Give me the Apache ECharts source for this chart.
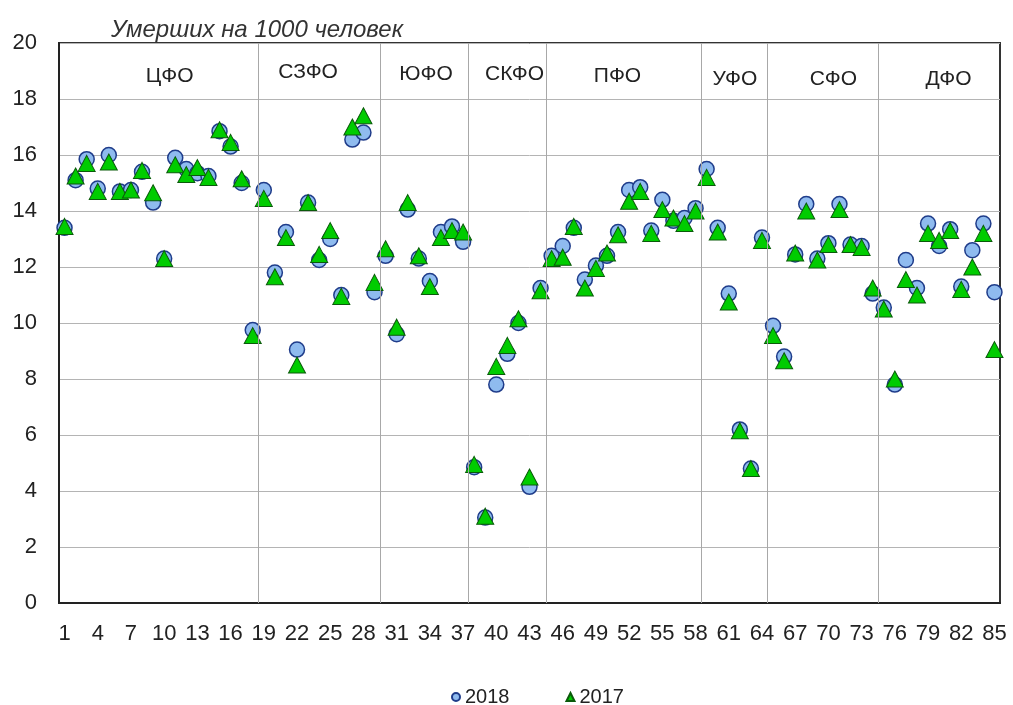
<!DOCTYPE html>
<html>
<head>
<meta charset="utf-8">
<script src="https://cdn.jsdelivr.net/npm/echarts@6/dist/echarts.min.js"></script>
<style>
  html, body { margin: 0; padding: 0; background: #fff; }
  #chart { width: 1013px; height: 705px; }
</style>
</head>
<body>
<div id="chart"></div>
<script>
// regions 1..85
const regions = []
for (let i = 1; i <= 85; i++) regions.push(String(i))

const values2018 = [
  13.4, 15.1, 15.85, 14.8, 16.0, 14.7, 14.75, 15.4, 14.3, 12.3,
  15.9, 15.5, 15.35, 15.25, 16.85, 16.3, 15.0, 9.75, 14.75, 11.8,
  13.25, 9.05, 14.3, 12.25, 13.0, 11.0, 16.55, 16.8, 11.1, 12.4,
  9.6, 14.05, 12.3, 11.5, 13.25, 13.45, 12.9, 4.85, 3.05, 7.8,
  8.9, 10.0, 4.15, 11.25, 12.4, 12.75, 13.4, 11.55, 12.05, 12.4,
  13.25, 14.75, 14.85, 13.3, 14.4, 13.65, 13.75, 14.1, 15.5, 13.4,
  11.05, 6.2, 4.8, 13.05, 9.9, 8.8, 12.45, 14.25, 12.3, 12.85,
  14.25, 12.8, 12.75, 11.05, 10.55, 7.8, 12.25, 11.25, 13.55, 12.75,
  13.35, 11.3, 12.6, 13.55, 11.1
]

const values2017 = [
  13.45, 15.25, 15.7, 14.7, 15.75, 14.7, 14.75, 15.45, 14.65, 12.3,
  15.65, 15.3, 15.55, 15.2, 16.9, 16.45, 15.15, 9.55, 14.45, 11.65,
  13.05, 8.5, 14.3, 12.45, 13.3, 10.95, 17.0, 17.4, 11.45, 12.65,
  9.85, 14.3, 12.4, 11.3, 13.05, 13.3, 13.25, 4.95, 3.1, 8.45,
  9.2, 10.15, 4.5, 11.15, 12.3, 12.35, 13.45, 11.25, 11.95, 12.5,
  13.15, 14.35, 14.7, 13.2, 14.05, 13.75, 13.55, 14.0, 15.2, 13.25,
  10.75, 6.15, 4.8, 12.95, 9.55, 8.65, 12.5, 14.0, 12.25, 12.8,
  14.05, 12.8, 12.7, 11.25, 10.5, 8.0, 11.55, 11.0, 13.2, 12.95,
  13.3, 11.2, 12.0, 13.2, 9.05
]

// federal districts: names and number of regions
const districtNames = ['ЦФО', 'СЗФО', 'ЮФО', 'СКФО', 'ПФО', 'УФО', 'СФО', 'ДФО']
const districtSizes = [18, 11, 8, 7, 14, 6, 10, 11]

// where the district captions sit (region units, value units)
const captionX = [10.5, 23.0, 33.65, 41.65, 50.95, 61.55, 70.45, 80.85]
const captionY = [18.8, 18.95, 18.9, 18.9, 18.8, 18.7, 18.7, 18.7]

const font = 'Liberation Sans, Arial, sans-serif'

// boundaries between districts
const bounds = []
let acc = 0
for (let i = 0; i < districtSizes.length - 1; i++) {
  acc += districtSizes[i]
  bounds.push({ xAxis: acc + 0.5 })
}

const chart = echarts.init(document.getElementById('chart'))
chart.setOption({
  animation: false,
  backgroundColor: '#fff',
  textStyle: { fontFamily: font },
  title: {
    text: 'Умерших на 1000 человек',
    left: 106,
    top: 13,
    textStyle: {
      fontFamily: font,
      fontSize: 24,
      fontStyle: 'italic',
      fontWeight: 'normal',
      color: '#333'
    }
  },
  legend: {
    left: 446,
    top: 682,
    itemWidth: 8,
    itemHeight: 8,
    itemGap: 56,
    textStyle: { fontFamily: font, fontSize: 20, color: '#222' },
    data: [
      { name: '2018', icon: 'circle' },
      { name: '2017', icon: 'triangle' }
    ]
  },
  grid: {
    left: 59,
    right: 13,
    top: 43,
    bottom: 102,
    show: true,
    borderColor: '#333',
    borderWidth: 2
  },
  xAxis: [
    {
      type: 'category',
      data: regions,
      boundaryGap: true,
      axisTick: { show: false },
      axisLine: { lineStyle: { color: '#222', width: 2 } },
      axisLabel: {
        interval: 2,
        margin: 20,
        fontSize: 22,
        color: '#222',
        fontFamily: font
      },
      splitLine: { show: false }
    },
    {
      type: 'value',
      min: 0.5,
      max: 85.5,
      show: false,
      splitLine: { show: false }
    }
  ],
  yAxis: {
    type: 'value',
    min: 0,
    max: 20,
    interval: 2,
    axisTick: { show: false },
    axisLine: { show: true, lineStyle: { color: '#222', width: 2 } },
    axisLabel: {
      margin: 22,
      fontSize: 22,
      color: '#222',
      fontFamily: font
    },
    splitLine: { lineStyle: { color: '#b4b4b4', width: 1 } }
  },
  series: [
    {
      name: 'districts',
      type: 'scatter',
      xAxisIndex: 1,
      symbolSize: 0,
      silent: true,
      itemStyle: { opacity: 1 },
      data: districtNames.map((n, i) => ({ name: n, value: [captionX[i], captionY[i]] })),
      label: {
        show: true,
        position: 'inside',
        formatter: '{b}',
        fontSize: 21,
        color: '#222',
        fontFamily: font
      },
      markLine: {
        silent: true,
        symbol: 'none',
        label: { show: false },
        lineStyle: { color: '#a8a8a8', width: 1, type: 'solid' },
        data: bounds
      }
    },
    {
      name: '2018',
      type: 'scatter',
      symbol: 'circle',
      symbolSize: 15,
      itemStyle: { color: '#8fbbef', borderColor: '#1f3c8a', borderWidth: 1.5, opacity: 1 },
      data: values2018
    },
    {
      name: '2017',
      type: 'scatter',
      symbol: 'triangle',
      symbolSize: [17, 16],
      itemStyle: { color: '#00cc00', borderColor: '#0a5a0a', borderWidth: 1, opacity: 1 },
      data: values2017
    }
  ]
})
</script>
</body>
</html>
